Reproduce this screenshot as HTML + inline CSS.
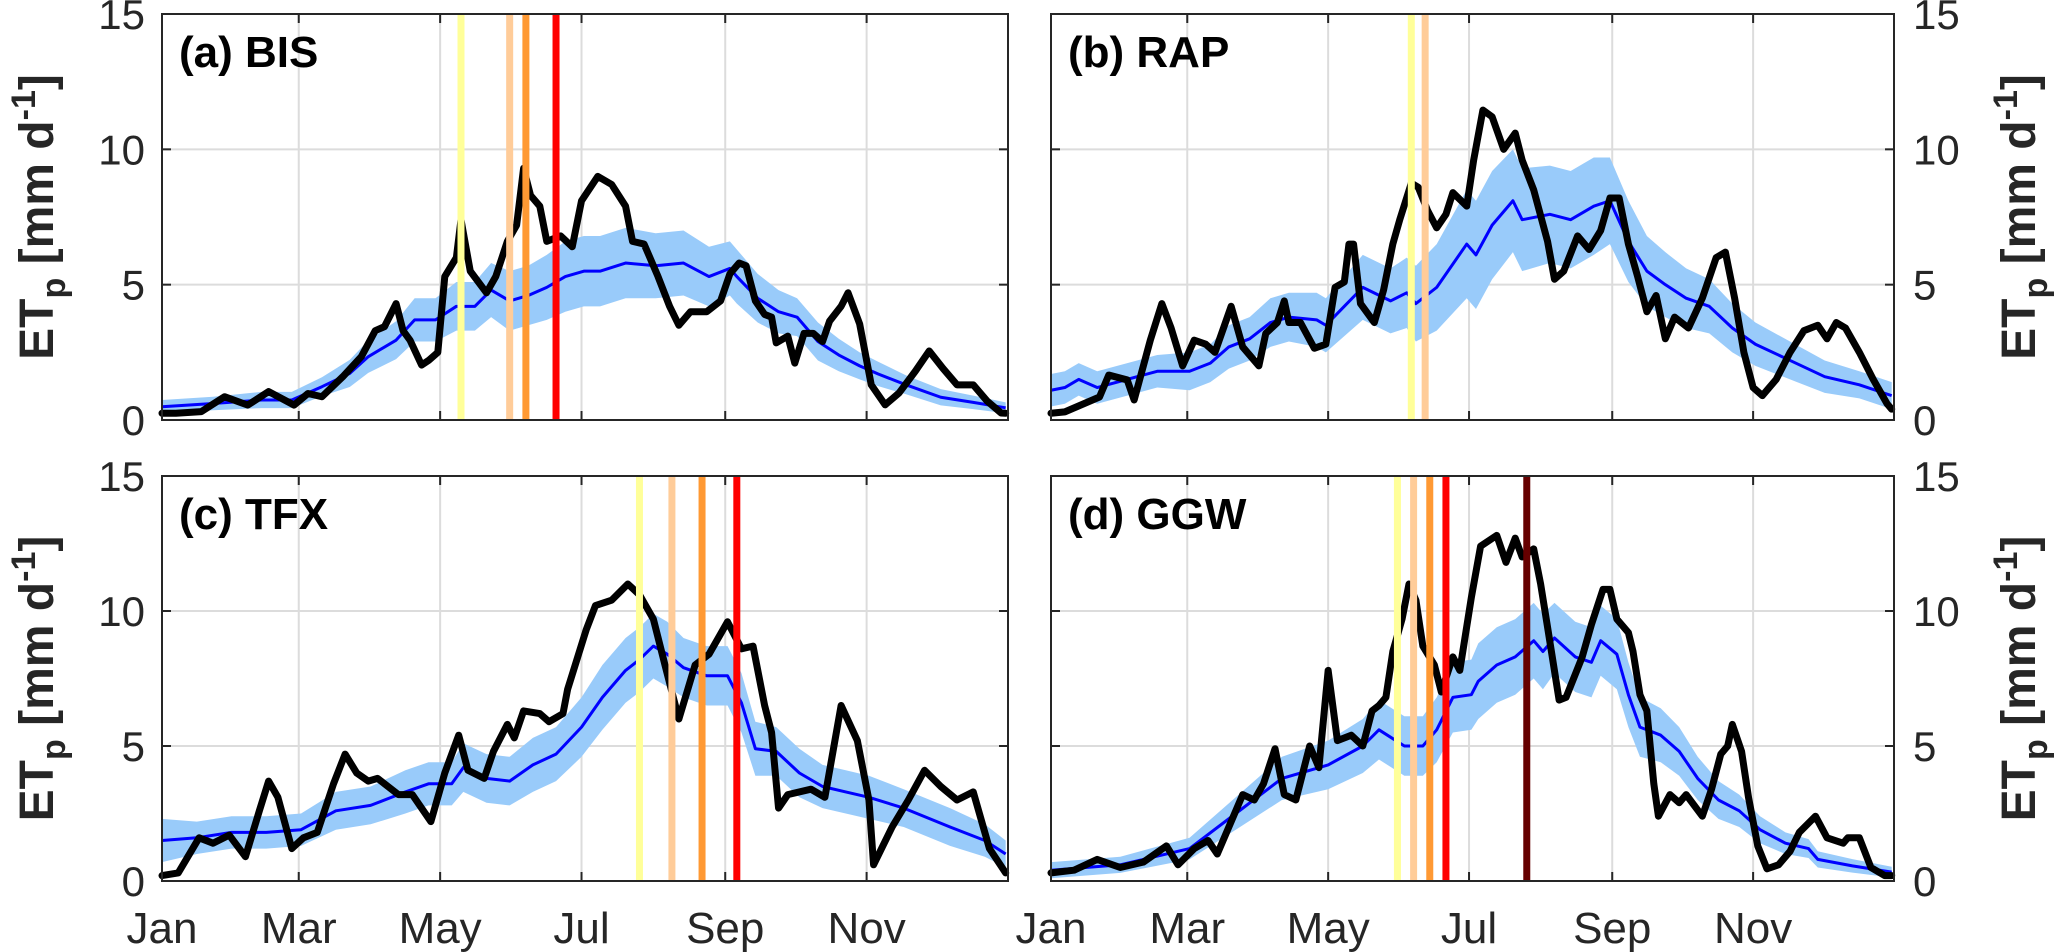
<!DOCTYPE html>
<html><head><meta charset="utf-8"><title>ETp panels</title>
<style>
html,body{margin:0;padding:0;background:#fff;}
svg{display:block;font-family:"Liberation Sans",Arial,sans-serif;}
</style></head>
<body>
<svg id="chart" width="2067" height="952" viewBox="0 0 2067 952" xmlns="http://www.w3.org/2000/svg"></svg>
<script>
// ---------- data ----------
const monthTickDoy = [0, 59, 120, 181, 243, 304];
const monthLabels = ["Jan", "Mar", "May", "Jul", "Sep", "Nov"];
const yTicks = [0, 5, 10, 15];
const panelLabels = ["(a) BIS", "(b) RAP", "(c) TFX", "(d) GGW"];
const eventColors = ["#ffff99", "#ffcc99", "#ff9933", "#ff0000", "#660000"];

// (a) BIS
const blackDoyA = [0,6,17,27,37,46,57,63,69,78,86,92,96,101,104,107,112,115,119,122,127,129,133,140,144,149,153,156,159,163,166,172,177,181,188,194,200,203,208,214,219,223,228,235,241,245,249,252,256,260,263,265,270,273,277,281,285,288,293,296,301,306,312,318,325,331,337,343,350,356,362,364];
const blackValA = [0.25,0.25,0.31,0.86,0.55,1.05,0.55,0.98,0.86,1.6,2.34,3.3,3.45,4.3,3.3,2.95,2.03,2.2,2.5,5.3,6.0,7.4,5.5,4.7,5.3,6.6,7.2,9.3,8.3,7.9,6.6,6.8,6.4,8.1,9.0,8.7,7.9,6.6,6.5,5.3,4.2,3.5,4.0,4.0,4.4,5.4,5.8,5.7,4.4,3.9,3.8,2.85,3.1,2.1,3.2,3.2,2.9,3.65,4.2,4.7,3.55,1.3,0.56,1.0,1.8,2.55,1.9,1.3,1.3,0.7,0.26,0.25];
const meanDoyA = [0,22,43,56,69,81,89,101,109,118,127,135,142,150,158,166,174,182,189,200,213,225,236,245,248,257,266,274,283,292,301,309,321,336,350,364];
const meanValA = [0.49,0.61,0.74,0.74,1.23,1.72,2.34,2.95,3.7,3.7,4.2,4.2,4.8,4.4,4.6,4.9,5.3,5.5,5.5,5.8,5.7,5.8,5.3,5.6,5.3,4.5,4.0,3.8,2.9,2.4,2.0,1.7,1.3,0.84,0.65,0.45];
const spreadA = [0.25,0.25,0.3,0.3,0.35,0.5,0.6,0.7,0.8,0.8,0.9,0.9,1.0,1.1,1.1,1.2,1.3,1.3,1.3,1.3,1.2,1.2,1.1,1.0,1.0,0.9,0.8,0.7,0.7,0.6,0.5,0.45,0.35,0.3,0.25,0.2];
const eventsA = [129,150,157,170];

// (b) RAP
const blackDoyB = [0,6,21,25,33,36,43,48,52,57,62,67,71,78,83,90,93,98,101,103,108,114,119,123,127,129,131,134,140,144,148,151,156,159,163,167,171,174,180,183,187,191,196,201,204,209,215,218,222,228,233,238,242,246,250,254,258,262,266,270,276,282,288,292,296,300,304,308,314,320,326,332,336,340,344,350,356,362,364];
const blackValB = [0.25,0.3,0.85,1.66,1.48,0.74,2.95,4.3,3.4,2.0,2.95,2.8,2.5,4.2,2.7,2.0,3.2,3.6,4.4,3.6,3.6,2.65,2.8,4.9,5.1,6.5,6.5,4.3,3.6,4.8,6.5,7.4,8.75,8.6,7.75,7.1,7.6,8.4,7.9,9.6,11.45,11.2,10.0,10.6,9.6,8.5,6.6,5.2,5.5,6.8,6.3,7.0,8.2,8.2,6.5,5.3,4.0,4.6,3.0,3.8,3.4,4.5,6.0,6.2,4.5,2.5,1.2,0.9,1.5,2.5,3.3,3.5,3.0,3.6,3.4,2.5,1.5,0.6,0.4];
const meanDoyB = [0,6,12,20,46,60,69,77,86,95,103,115,119,127,135,147,154,158,167,180,184,191,200,204,216,225,235,242,250,258,266,275,285,295,305,320,335,350,364];
const meanValB = [1.1,1.2,1.5,1.2,1.8,1.8,2.1,2.7,3.0,3.6,3.8,3.7,3.5,4.2,4.9,4.4,4.7,4.3,4.9,6.5,6.1,7.2,8.1,7.4,7.6,7.4,7.9,8.1,6.6,5.5,5.0,4.5,4.2,3.4,2.8,2.2,1.6,1.3,0.9];
const spreadB = [0.6,0.6,0.6,0.6,0.6,0.7,0.7,0.8,0.8,0.9,0.9,1.0,1.0,1.1,1.2,1.2,1.3,1.4,1.6,2.0,2.0,2.0,1.9,1.9,1.8,1.8,1.8,1.6,1.5,1.3,1.2,1.1,1.0,0.9,0.8,0.7,0.6,0.5,0.5];
const eventsB = [156,162];

// (c) TFX
const blackDoyC = [0,7,16,22,29,36,42,46,50,56,61,67,74,79,84,89,93,102,108,116,122,128,132,139,143,149,152,156,163,167,173,175,183,187,194,201,206,212,217,223,230,236,244,250,255,260,263,266,270,280,286,293,300,305,307,315,322,329,336,343,350,357,364];
const blackValC = [0.2,0.3,1.6,1.4,1.7,0.9,2.6,3.7,3.1,1.2,1.6,1.8,3.6,4.7,4.0,3.7,3.8,3.2,3.2,2.2,4.0,5.4,4.1,3.8,4.8,5.8,5.3,6.3,6.2,5.9,6.2,7.1,9.3,10.2,10.4,11.0,10.6,9.7,8.0,6.0,8.0,8.4,9.6,8.6,8.7,6.5,5.5,2.7,3.2,3.4,3.1,6.5,5.2,3.0,0.6,2.0,3.0,4.1,3.5,3.0,3.3,1.2,0.3];
const meanDoyC = [0,15,30,45,60,75,90,105,115,125,130,140,150,160,170,181,190,200,206,212,218,225,235,244,250,256,265,275,285,295,305,320,340,355,364];
const meanValC = [1.5,1.6,1.8,1.8,1.9,2.6,2.8,3.3,3.6,3.6,4.2,3.8,3.7,4.3,4.7,5.7,6.8,7.8,8.2,8.7,8.4,7.9,7.6,7.6,6.6,4.9,4.8,4.0,3.5,3.3,3.1,2.7,2.0,1.5,1.0];
const spreadC = [0.8,0.6,0.6,0.6,0.6,0.7,0.7,0.8,0.8,0.8,0.9,0.9,0.9,1.0,1.0,1.1,1.2,1.2,1.2,1.2,1.2,1.1,1.1,1.1,1.1,1.0,0.9,0.9,0.8,0.8,0.8,0.7,0.7,0.6,0.5];
const eventsC = [206,220,233,248];

// (d) GGW
const blackDoyD = [0,10,20,30,40,50,55,62,68,72,78,83,88,92,97,101,106,112,116,120,124,130,135,139,142,145,148,152,155,158,161,166,169,174,177,182,186,193,197,201,204,209,212,215,220,223,230,234,239,242,245,250,252,255,258,261,263,268,272,275,282,286,290,293,295,299,302,306,310,315,320,324,331,336,343,345,350,355,361,364];
const blackValD = [0.3,0.4,0.8,0.5,0.7,1.3,0.6,1.2,1.5,1.0,2.2,3.2,3.0,3.6,4.9,3.2,3.0,5.0,4.2,7.8,5.2,5.4,5.0,6.3,6.5,6.8,8.5,9.7,11.0,10.4,8.7,8.0,7.0,8.3,7.8,10.5,12.4,12.8,11.8,12.7,12.0,12.3,11.0,9.4,6.7,6.8,8.3,9.5,10.8,10.8,9.7,9.2,8.5,6.9,6.3,3.6,2.4,3.2,2.9,3.2,2.4,3.4,4.7,5.0,5.8,4.8,3.1,1.3,0.45,0.6,1.1,1.8,2.4,1.6,1.4,1.6,1.6,0.5,0.2,0.2];
const meanDoyD = [0,30,60,80,100,120,135,142,153,161,167,174,182,185,193,201,209,213,218,227,234,238,245,250,255,264,272,280,289,298,307,318,328,332,347,364];
const meanValD = [0.4,0.6,1.2,2.5,3.8,4.3,5.0,5.6,5.0,5.0,5.6,6.8,6.9,7.4,8.0,8.3,8.9,8.5,9.0,8.3,8.1,8.9,8.4,6.9,5.7,5.4,4.8,3.8,3.0,2.6,1.9,1.4,1.2,0.8,0.56,0.33];
const spreadD = [0.3,0.3,0.4,0.6,0.8,0.9,1.0,1.1,1.1,1.1,1.2,1.3,1.3,1.4,1.4,1.4,1.4,1.4,1.3,1.3,1.3,1.3,1.3,1.2,1.1,1.0,0.9,0.8,0.7,0.6,0.5,0.4,0.35,0.3,0.25,0.2];
const eventsD = [150,157,164,171,206];

// ---------- drawing ----------
const NS = "http://www.w3.org/2000/svg";
const svg = document.getElementById("chart");
function mk(tag, attrs, parent) {
  const e = document.createElementNS(NS, tag);
  for (const k in attrs) e.setAttribute(k, attrs[k]);
  (parent || svg).appendChild(e);
  return e;
}
const panels = [
  {l:162, r:1008, t:14, b:420, side:"left", bottomLabels:false, bd:blackDoyA, bv:blackValA, md:meanDoyA, mv:meanValA, sp:spreadA, ev:eventsA, key:"a"},
  {l:1051, r:1894, t:14, b:420, side:"right", bottomLabels:false, bd:blackDoyB, bv:blackValB, md:meanDoyB, mv:meanValB, sp:spreadB, ev:eventsB, key:"b"},
  {l:162, r:1008, t:476, b:881, side:"left", bottomLabels:true, bd:blackDoyC, bv:blackValC, md:meanDoyC, mv:meanValC, sp:spreadC, ev:eventsC, key:"c"},
  {l:1051, r:1894, t:476, b:881, side:"right", bottomLabels:true, bd:blackDoyD, bv:blackValD, md:meanDoyD, mv:meanValD, sp:spreadD, ev:eventsD, key:"d"}
];

panels.forEach((p, pi) => {
  const xs = d => p.l + d / 365 * (p.r - p.l);
  const ys = v => p.b - v / 15 * (p.b - p.t);
  const g = mk("g", {});
  
  

  // gridlines
  monthTickDoy.forEach((d, i) => {
    if (d === 0) return;
    const ln = mk("line", {x1:xs(d), x2:xs(d), y1:p.t, y2:p.b, stroke:"#dcdcdc", "stroke-width":2}, g);
    
    
  });
  yTicks.forEach(v => {
    if (v === 0 || v === 15) return;
    const ln = mk("line", {x1:p.l, x2:p.r, y1:ys(v), y2:ys(v), stroke:"#dcdcdc", "stroke-width":2}, g);
    
    
  });

  // band
  let up = p.md.map((d, i) => xs(d) + "," + ys(p.mv[i] + p.sp[i]));
  let lo = p.md.map((d, i) => xs(d) + "," + ys(Math.max(0, p.mv[i] - p.sp[i]))).reverse();
  const band = mk("polygon", {points: up.concat(lo).join(" "), fill:"#99cbfa", stroke:"none"}, g);
  
  

  // mean line
  const mean = mk("polyline", {points: p.md.map((d, i) => xs(d) + "," + ys(p.mv[i])).join(" "), fill:"none", stroke:"#0000ff", "stroke-width":3, "stroke-linejoin":"round"}, g);
  
  

  // black line
  const blk = mk("polyline", {points: p.bd.map((d, i) => xs(d) + "," + ys(p.bv[i])).join(" "), fill:"none", stroke:"#000", "stroke-width":7, "stroke-linejoin":"round", "stroke-linecap":"round"}, g);
  
  

  // event lines
  p.ev.forEach((d, i) => {
    const ln = mk("line", {x1:xs(d), x2:xs(d), y1:p.t, y2:p.b, stroke:eventColors[i], "stroke-width":7}, g);
    
    
  });

  // frame
  const fr = mk("rect", {x:p.l, y:p.t, width:p.r - p.l, height:p.b - p.t, fill:"none", stroke:"#262626", "stroke-width":2}, g);
  
  

  // x ticks
  monthTickDoy.forEach((d, i) => {
    mk("line", {x1:xs(d), x2:xs(d), y1:p.b, y2:p.b - 9, stroke:"#262626", "stroke-width":2}, g);
    mk("line", {x1:xs(d), x2:xs(d), y1:p.t, y2:p.t + 9, stroke:"#262626", "stroke-width":2}, g);
    if (p.bottomLabels) {
      const t = mk("text", {x:xs(d), y:943, "text-anchor":"middle", "font-size":44, fill:"#262626"}, g);
      t.textContent = monthLabels[i];
      
      
    }
  });

  // y ticks + labels
  yTicks.forEach(v => {
    mk("line", {x1:p.l, x2:p.l + 9, y1:ys(v), y2:ys(v), stroke:"#262626", "stroke-width":2}, g);
    mk("line", {x1:p.r, x2:p.r - 9, y1:ys(v), y2:ys(v), stroke:"#262626", "stroke-width":2}, g);
    const left = p.side === "left";
    const t = mk("text", {x: left ? 145 : 1913, y: ys(v) + 15, "text-anchor": left ? "end" : "start", "font-size":42, fill:"#262626"}, g);
    t.textContent = String(v);
    
    
  });

  // y title
  const cy = (p.t + p.b) / 2;
  const tx = p.side === "left" ? 53 : 2035;
  const title = mk("text", {x:0, y:0, transform:"translate(" + tx + "," + cy + ") rotate(-90)", "text-anchor":"middle", "font-size":48, "font-weight":"bold", fill:"#262626"}, g);
  
  
  title.innerHTML = 'ET<tspan font-size="34" dy="12">p</tspan><tspan dy="-12"> [mm d</tspan><tspan font-size="34" dy="-18">-1</tspan><tspan dy="18">]</tspan>';

  // panel label
  const pl = mk("text", {x:p.l + 17, y:p.t + 53, "font-size":44, "font-weight":"bold", fill:"#000"}, g);
  pl.textContent = panelLabels[pi];
  
  
});
</script>
</body></html>
